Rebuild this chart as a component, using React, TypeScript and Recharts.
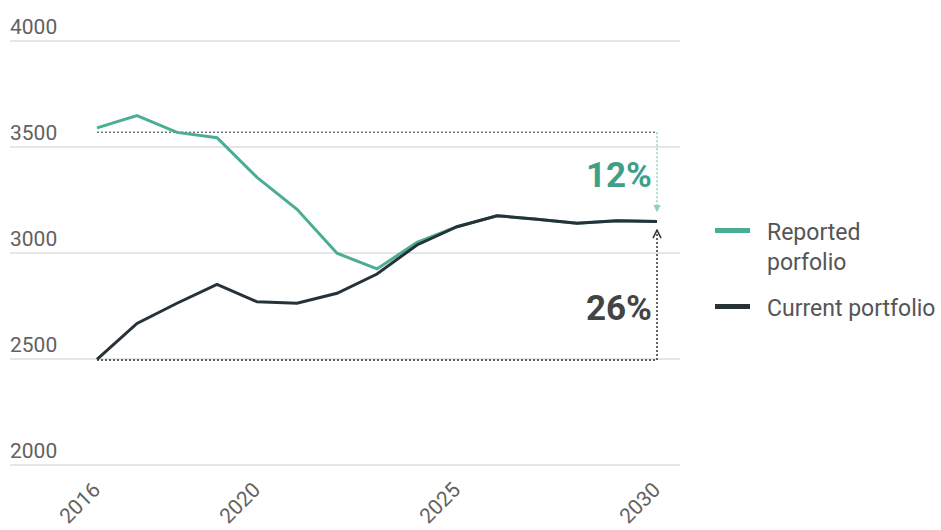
import {
  Legend,
  Line,
  LineChart,
  CartesianGrid,
  ReferenceDot,
  ReferenceLine,
  XAxis,
  YAxis,
} from "recharts";

const years = [
  2016, 2017, 2018, 2019, 2020, 2021, 2022, 2023, 2024, 2025, 2026, 2027, 2028,
  2029, 2030,
];
const reported = [
  3590, 3648, 3569, 3544, 3357, 3206, 2999, 2925, 3050, 3124, 3176, 3159, 3140,
  3152, 3148,
];
const current = [
  2498, 2668, 2763, 2852, 2770, 2763, 2810, 2901, 3038, 3124, 3176, 3159, 3140,
  3152, 3148,
];
const xTicks = [2016, 2020, 2025, 2030];
const yTicks = [2000, 2500, 3000, 3500, 4000];
const seriesNames = ["Reported\nporfolio", "Current portfolio"];

// reference levels for the two change annotations
const reportedBase = 3570;
const currentBase = 2495;
const reportedArrowEnd = 3192;
const currentArrowEnd = 3108;

const GREEN = "#4aae95";
const DARK = "#263238";
const FONT = "Roboto, sans-serif";

const chartData = years.map((year, i) => ({
  year,
  reported: reported[i],
  current: current[i],
}));

function YTick({ y, payload }: any) {
  return (
    <text x={10} y={y - 7} fill="#616161" fontSize={21} fontFamily={FONT}>
      {payload.value}
    </text>
  );
}

function XTick({ x, y, payload }: any) {
  const cx = x - 17;
  const cy = y + 30;
  return (
    <text
      x={cx}
      y={cy}
      textAnchor="middle"
      dominantBaseline="central"
      transform={`rotate(-45 ${cx} ${cy})`}
      fill="#616161"
      fontSize={21}
      fontFamily={FONT}
    >
      {payload.value}
    </text>
  );
}

function ChartLegend({ payload }: any) {
  const items = [...(payload ?? [])].sort(
    (a: any, b: any) => seriesNames.indexOf(a.value) - seriesNames.indexOf(b.value),
  );
  return (
    <div style={{ fontFamily: FONT, fontSize: 23, color: "#555" }}>
      {items.map((item: any) => (
        <div
          key={item.value}
          style={{ display: "flex", alignItems: "flex-start", marginBottom: 16 }}
        >
          <span
            style={{
              display: "inline-block",
              flex: "none",
              width: 35,
              height: 5,
              marginTop: 10,
              background: item.color,
            }}
          />
          <span
            style={{
              marginLeft: 17,
              lineHeight: "30px",
              whiteSpace: "pre",
            }}
          >
            {item.value}
          </span>
        </div>
      ))}
    </div>
  );
}

export default function App() {
  return (
    <div
      style={{
        position: "absolute",
        left: 0,
        top: 0,
        width: 941,
        height: 530,
        background: "#fff",
        overflow: "hidden",
      }}
    >
      <LineChart
        width={941}
        height={530}
        data={chartData}
        margin={{ top: 41, right: 261, left: 0, bottom: 5 }}
      >
        <defs>
          <marker
            id="arrowGreen"
            viewBox="0 0 10 10"
            refX={9}
            refY={5}
            markerWidth={9}
            markerHeight={9}
            markerUnits="userSpaceOnUse"
            orient="auto"
          >
            <path d="M1,1 L9,5 L1,9 z" fill="#8fd0bd" />
          </marker>
          <marker
            id="arrowDark"
            viewBox="0 0 10 10"
            refX={9}
            refY={5}
            markerWidth={10}
            markerHeight={10}
            markerUnits="userSpaceOnUse"
            orient="auto"
          >
            <path d="M1,1 L9,5 L1,9" fill="none" stroke="#333" strokeWidth={1.5} />
          </marker>
        </defs>

        <CartesianGrid vertical={false} stroke="#dedede" strokeWidth={1.5} />

        <XAxis
          dataKey="year"
          type="number"
          domain={[2016, 2030]}
          ticks={xTicks}
          padding={{ left: 87, right: 23 }}
          axisLine={false}
          tickLine={false}
          height={60}
          tick={<XTick />}
          interval={0}
        />

        <YAxis
          domain={[2000, 4000]}
          ticks={yTicks}
          width={10}
          interval={0}
          axisLine={false}
          tickLine={false}
          tick={<YTick />}
        />

        <Legend
          layout="horizontal"
          verticalAlign="middle"
          content={<ChartLegend />}
          wrapperStyle={{ position: "absolute", left: 715, top: 218, width: 226 }}
        />

        <ReferenceLine
          segment={[
            { x: 2016, y: reportedBase },
            { x: 2030, y: reportedBase },
          ]}
          stroke="#777"
          strokeWidth={1.5}
          strokeDasharray="2 2"
        />
        <ReferenceLine
          segment={[
            { x: 2030, y: reportedBase },
            { x: 2030, y: reportedArrowEnd },
          ]}
          stroke="#8fd0bd"
          strokeWidth={1.5}
          strokeDasharray="2 2"
          markerEnd="url(#arrowGreen)"
        />
        <ReferenceLine
          segment={[
            { x: 2016, y: currentBase },
            { x: 2030, y: currentBase },
          ]}
          stroke="#333"
          strokeWidth={1.5}
          strokeDasharray="2 2"
        />
        <ReferenceLine
          segment={[
            { x: 2030, y: currentBase },
            { x: 2030, y: currentArrowEnd },
          ]}
          stroke="#333"
          strokeWidth={1.5}
          strokeDasharray="2 2"
          markerEnd="url(#arrowDark)"
        />

        <Line
          type="linear"
          dataKey="reported"
          name={seriesNames[0]}
          stroke={GREEN}
          strokeWidth={3}
          dot={false}
          isAnimationActive={false}
        />
        <Line
          type="linear"
          dataKey="current"
          name={seriesNames[1]}
          stroke={DARK}
          strokeWidth={3}
          dot={false}
          isAnimationActive={false}
        />

        <ReferenceDot
          x={2030}
          y={3311}
          r={0}
          shape={(p: any) => (
            <text
              x={p.cx - 5}
              y={p.cy}
              textAnchor="end"
              fill="#3f9f87"
              fontSize={35}
              fontWeight={700}
              fontFamily={FONT}
            >
              12%
            </text>
          )}
        />
        <ReferenceDot
          x={2030}
          y={2684}
          r={0}
          shape={(p: any) => (
            <text
              x={p.cx - 5}
              y={p.cy}
              textAnchor="end"
              fill="#444"
              fontSize={35}
              fontWeight={700}
              fontFamily={FONT}
            >
              26%
            </text>
          )}
        />
      </LineChart>
    </div>
  );
}
